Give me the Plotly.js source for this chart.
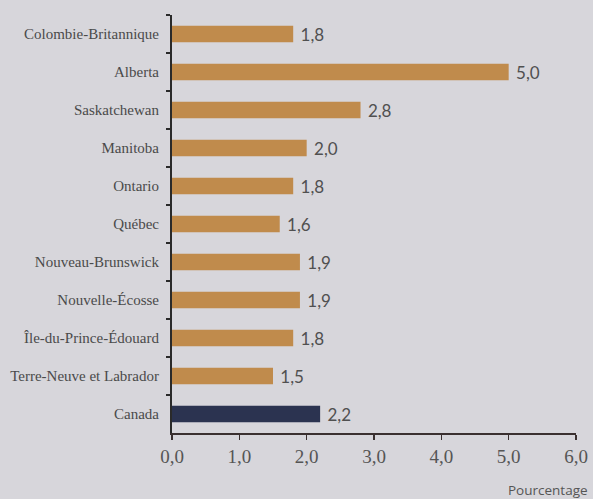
<!DOCTYPE html>
<html>
<head>
<meta charset="utf-8">
<script src="https://cdn.plot.ly/plotly-3.0.1.min.js"></script>
<style>html,body{margin:0;padding:0;background:#d7d6db;}#chart{width:593px;height:499px;}</style>
</head>
<body>
<div id="chart"></div>
<script>
var categories = ["Colombie-Britannique","Alberta","Saskatchewan","Manitoba","Ontario","Québec","Nouveau-Brunswick","Nouvelle-Écosse","Île-du-Prince-Édouard","Terre-Neuve et Labrador","Canada"];
var values = [1.8, 5.0, 2.8, 2.0, 1.8, 1.6, 1.9, 1.9, 1.8, 1.5, 2.2];
var xTicks = [0, 1, 2, 3, 4, 5, 6];
var xTitle = "Pourcentage";

var provColor = "#c08b4c";
var canadaColor = "#2b3350";
var colors = categories.map(function(c){ return c === "Canada" ? canadaColor : provColor; });

var trace = {
  type: "bar",
  orientation: "h",
  y: categories,
  x: values,
  marker: {color: colors},
  width: 0.44,
  text: values.map(function(v){ return "\u00a0" + v.toFixed(1).replace(".", ","); }),
  textposition: "outside",
  constraintext: "none",
  textfont: {family: "Lato, 'Open Sans', sans-serif", size: 17, color: "#505050"},
  cliponaxis: false,
  hoverinfo: "none"
};

var layout = {
  width: 593, height: 499,
  margin: {l: 172, r: 17, t: 15, b: 66},
  paper_bgcolor: "#d7d6db",
  plot_bgcolor: "#d7d6db",
  showlegend: false,
  xaxis: {
    range: [0, 6],
    tickvals: xTicks,
    ticktext: xTicks.map(function(v){ return v.toFixed(1).replace(".", ","); }),
    showgrid: false, zeroline: false,
    showline: true, linecolor: "#3a3030", linewidth: 2,
    ticks: "outside", ticklen: 5, tickcolor: "#3a3030", tickwidth: 1.5,
    tickfont: {family: "'Liberation Serif', 'DejaVu Serif', serif", size: 19, color: "#555"},
    fixedrange: true
  },
  yaxis: {
    type: "category",
    categoryorder: "array",
    categoryarray: categories,
    autorange: "reversed",
    showgrid: false, zeroline: false,
    showline: true, linecolor: "#2a2a2a", linewidth: 2,
    ticks: "outside", ticklen: 4, tickcolor: "#2a2a2a", tickwidth: 1.5,
    tickson: "boundaries",
    ticklabelstandoff: 8,
    tickfont: {family: "'Liberation Serif', 'DejaVu Serif', serif", size: 15, color: "#4a4a4a"},
    fixedrange: true
  },
  annotations: [{
    text: xTitle, xref: "paper", yref: "paper",
    x: 1.035, y: -0.136, xanchor: "right", yanchor: "middle", showarrow: false,
    font: {family: "'Open Sans', Lato, sans-serif", size: 13.5, color: "#555"}
  }]
};

Plotly.newPlot("chart", [trace], layout, {displayModeBar: false, staticPlot: true});
</script>
</body>
</html>
